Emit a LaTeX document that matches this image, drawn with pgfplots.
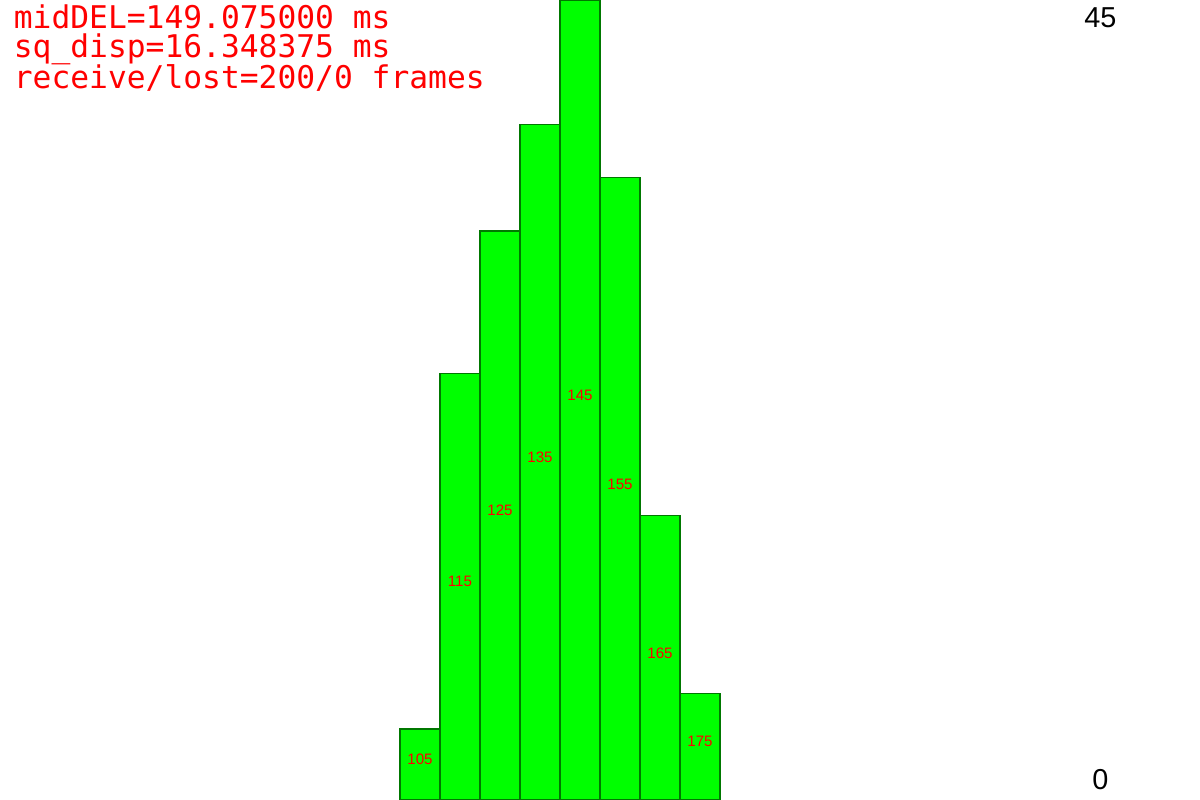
\documentclass[border=0pt]{standalone}
\usepackage{pgfplots}
\pgfplotsset{compat=1.18}
\usepackage{fontspec}
\setmainfont{Liberation Sans}
\newfontfamily\monofont{DejaVu Sans Mono}
\definecolor{barfill}{RGB}{0,255,0}
\definecolor{bardraw}{RGB}{0,120,0}
\definecolor{txtred}{RGB}{255,0,0}
\begin{document}
\begin{tikzpicture}
\begin{axis}[name=ax,
  scale only axis, width=12cm, height=8cm,
  xmin=0, xmax=300, ymin=0, ymax=45,
  hide axis, clip=false]
\addplot[ybar interval, fill=barfill, draw=bardraw, line width=0.4pt]
  coordinates {(100,4) (110,24) (120,32) (130,38) (140,45) (150,35) (160,16) (170,6) (180,6)};
\addplot[draw=none, mark=none, nodes near coords, point meta=explicit symbolic,
  every node near coord/.append style={anchor=center, yshift=1.4pt, text=txtred,
    font=\fontsize{4.3}{5}\selectfont, inner sep=0pt}]
  coordinates {(105,2)[105] (115,12)[115] (125,16)[125] (135,19)[135]
               (145,22.5)[145] (155,17.5)[155] (165,8)[165] (175,3)[175]};
\node[anchor=base west, text=txtred, inner sep=0pt, font=\monofont\fontsize{8.9}{10}\selectfont]
  at (axis description cs:0.011,0.965) {midDEL=149.075000 ms};
\node[anchor=base west, text=txtred, inner sep=0pt, font=\monofont\fontsize{8.9}{10}\selectfont]
  at (axis description cs:0.011,0.9285) {sq\_disp=16.348375 ms};
\node[anchor=base west, text=txtred, inner sep=0pt, font=\monofont\fontsize{8.9}{10}\selectfont]
  at (axis description cs:0.011,0.889) {receive/lost=200/0 frames};
\node[anchor=center, inner sep=0pt, font=\fontsize{8.2}{9}\selectfont]
  at (axis description cs:0.917,0.9775) {45};
\node[anchor=center, inner sep=0pt, font=\fontsize{8.2}{9}\selectfont]
  at (axis description cs:0.917,0.026) {0};
\end{axis}
\pgfresetboundingbox
\path[use as bounding box] (ax.south west) rectangle (ax.north east);
\end{tikzpicture}
\end{document}
